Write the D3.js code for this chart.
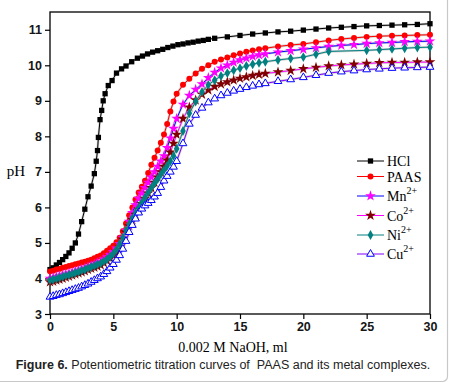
<!DOCTYPE html>
<html>
<head>
<meta charset="utf-8">
<script src="https://cdn.jsdelivr.net/npm/d3@7/dist/d3.min.js"></script>
<style>
  html, body { margin: 0; padding: 0; background: #fff; }
  svg { display: block; }
</style>
</head>
<body>
<div id="chart"></div>
<script>
// titration volumes (ml of 0.002 M NaOH) shared by PAAS and metal curves
const volume = [0,0.25,0.5,0.75,1,1.25,1.5,1.75,2,2.25,2.5,2.75,3,3.25,3.5,3.75,4,4.25,4.5,4.75,
  5,5.25,5.5,5.75,6,6.25,6.5,6.75,7,7.25,7.5,7.75,8,8.25,8.5,8.75,9,9.25,9.5,9.75,10,
  10.5,11,11.5,12,12.5,13,13.5,14,14.5,15,15.5,16,16.5,17,
  18,19,20,21,22,23,24,25,26,27,28,29,30];

const hclVolume = [0,0.25,0.5,0.75,1,1.25,1.5,1.75,2,2.25,2.5,2.75,3,3.25,3.5,
  3.65,3.75,3.82,3.95,4.08,4.2,4.35,4.6,4.9,5.25,5.65,6,6.45,6.9,7.3,7.7,8.1,8.5,8.9,9.3,9.7,
  10.1,10.5,10.9,11.3,11.7,12.1,12.5,
  13,14,15,16,17,18,19,20,21,22,23,24,25,26,27,28,29,30];
const hclPH = [4.25,4.30,4.38,4.45,4.53,4.62,4.72,4.85,5.00,5.25,5.60,5.95,6.30,6.60,6.95,
  7.30,7.60,7.97,8.47,8.73,9.00,9.20,9.43,9.57,9.78,9.90,9.98,10.10,10.20,10.26,10.32,10.37,10.41,10.45,10.50,10.54,
  10.58,10.60,10.63,10.65,10.68,10.70,10.73,
  10.76,10.80,10.84,10.88,10.91,10.94,10.96,10.99,11.02,11.05,11.07,11.09,11.11,11.12,11.13,11.14,11.15,11.17];

const paasPH = [4.20,4.22,4.25,4.27,4.30,4.32,4.35,4.37,4.40,4.42,4.45,4.47,4.50,4.53,4.57,4.61,4.65,4.71,4.78,4.85,
  4.92,5.02,5.15,5.33,5.55,5.78,6.00,6.22,6.42,6.58,6.75,6.97,7.20,7.40,7.60,7.82,8.05,8.35,8.70,8.98,9.20,
  9.45,9.62,9.77,9.90,10.00,10.10,10.16,10.22,10.28,10.33,10.38,10.42,10.45,10.48,
  10.53,10.57,10.60,10.65,10.70,10.74,10.77,10.80,10.82,10.83,10.84,10.85,10.86];

const mnPH = [4.00,4.02,4.05,4.07,4.10,4.12,4.15,4.17,4.20,4.23,4.26,4.29,4.33,4.36,4.40,4.44,4.48,4.54,4.60,4.67,
  4.75,4.85,4.98,5.15,5.35,5.60,5.85,6.07,6.25,6.40,6.55,6.70,6.85,7.00,7.15,7.30,7.45,7.68,7.95,8.22,8.50,
  8.90,9.15,9.32,9.47,9.65,9.80,9.92,10.00,10.08,10.15,10.20,10.25,10.29,10.32,
  10.37,10.41,10.45,10.49,10.53,10.56,10.58,10.61,10.63,10.64,10.66,10.67,10.68];

const coPH = [3.90,3.92,3.95,3.97,4.00,4.03,4.06,4.09,4.12,4.15,4.18,4.21,4.25,4.28,4.31,4.34,4.38,4.44,4.50,4.57,
  4.65,4.76,4.90,5.10,5.30,5.48,5.65,5.80,5.95,6.10,6.25,6.40,6.55,6.70,6.85,7.00,7.15,7.33,7.55,7.80,8.05,
  8.50,8.82,9.02,9.18,9.30,9.40,9.47,9.53,9.58,9.63,9.67,9.71,9.74,9.77,
  9.81,9.85,9.90,9.94,9.98,10.01,10.03,10.05,10.07,10.08,10.08,10.09,10.09];

const niPH = [3.95,3.97,4.00,4.02,4.05,4.08,4.10,4.13,4.16,4.19,4.22,4.25,4.29,4.32,4.36,4.39,4.43,4.48,4.54,4.61,
  4.70,4.82,4.97,5.15,5.35,5.53,5.70,5.85,6.00,6.14,6.28,6.42,6.55,6.68,6.80,6.93,7.05,7.17,7.30,7.45,7.65,
  8.15,8.65,8.98,9.25,9.45,9.58,9.70,9.78,9.86,9.92,9.98,10.03,10.07,10.10,
  10.15,10.19,10.23,10.31,10.39,null,null,10.42,10.44,10.46,10.48,10.50,10.51];

const cuPH = [3.48,3.50,3.53,3.55,3.58,3.61,3.64,3.67,3.70,3.73,3.77,3.81,3.85,3.90,3.95,4.00,4.05,4.12,4.20,4.30,
  4.40,4.52,4.65,4.83,5.05,5.30,5.50,5.68,5.85,5.96,6.05,6.12,6.20,6.30,6.40,6.57,6.75,6.88,7.00,7.14,7.30,
  7.80,8.35,8.60,8.80,8.95,9.06,9.15,9.22,9.28,9.33,9.38,9.42,9.46,9.49,
  9.55,9.60,9.66,9.72,9.78,9.82,9.85,9.88,9.90,9.92,9.93,9.94,9.95];

const xTicks = [0, 5, 10, 15, 20, 25, 30];
const yTicks = [3, 4, 5, 6, 7, 8, 9, 10, 11];

// series: label, superscript, line colour, marker colour, marker shape
const SERIES = [
  { name: 'HCl',  sup: '',   x: hclVolume, y: hclPH,  line: '#000000', mark: '#000000', shape: 'square' },
  { name: 'PAAS', sup: '',   x: volume,    y: paasPH, line: '#ff0000', mark: '#ff0000', shape: 'circle' },
  { name: 'Mn',   sup: '2+', x: volume,    y: mnPH,   line: '#0000ff', mark: '#ff00ff', shape: 'star' },
  { name: 'Co',   sup: '2+', x: volume,    y: coPH,   line: '#ff00ff', mark: '#800000', shape: 'star' },
  { name: 'Ni',   sup: '2+', x: volume,    y: niPH,   line: '#008080', mark: '#008080', shape: 'diamond' },
  { name: 'Cu',   sup: '2+', x: volume,    y: cuPH,   line: '#8000ff', mark: '#0000ff', shape: 'triangle' }
];

const W = 451, H = 383;
const plot = { left: 50, right: 430, top: 12, bottom: 314 };

const svg = d3.select('#chart').append('svg')
  .attr('width', W).attr('height', H);

// page border (only right/bottom edges show in the frame)
svg.append('rect')
  .attr('x', -10).attr('y', -10).attr('width', W - 3 + 10 - 0.5).attr('height', H - 1 + 10 - 0.5)
  .attr('rx', 5).attr('fill', 'none').attr('stroke', '#c8c8c8').attr('stroke-width', 1.2);

const x = d3.scaleLinear().domain([0, 30]).range([plot.left, plot.right]);
const y = d3.scaleLinear().domain([3, 11.5]).range([plot.bottom, plot.top]);

// ── Axes ────────────────────────────────────────────────────
const xAxis = svg.append('g')
  .attr('transform', `translate(0,${plot.bottom})`)
  .call(d3.axisBottom(x).tickValues(xTicks).tickSize(5).tickSizeOuter(0).tickPadding(3));
const yAxis = svg.append('g')
  .attr('transform', `translate(${plot.left},0)`)
  .call(d3.axisLeft(y).tickValues(yTicks).tickSize(5).tickSizeOuter(0).tickPadding(3));

[xAxis, yAxis].forEach(a => {
  a.select('.domain').remove();
  a.selectAll('line').attr('stroke', '#000').attr('stroke-width', 1.2);
  a.selectAll('text')
    .attr('fill', '#151515')
    .style('font-family', '"Liberation Sans", Arial, sans-serif')
    .style('font-weight', 'bold')
    .style('font-size', '12.5px');
});

// frame
svg.append('rect')
  .attr('x', plot.left).attr('y', plot.top)
  .attr('width', plot.right - plot.left).attr('height', plot.bottom - plot.top)
  .attr('fill', 'none').attr('stroke', '#000').attr('stroke-width', 1.3);

// axis titles
svg.append('text')
  .attr('x', 16).attr('y', 176)
  .attr('text-anchor', 'middle')
  .style('font-family', '"Liberation Serif", "Times New Roman", serif')
  .style('font-size', '15px')
  .text('pH');

svg.append('text')
  .attr('x', 233).attr('y', 352)
  .attr('text-anchor', 'middle')
  .style('font-family', '"Liberation Serif", "Times New Roman", serif')
  .style('font-size', '14px')
  .text('0.002 M NaOH, ml');

// caption
const cap = svg.append('text')
  .attr('x', 223).attr('y', 369)
  .attr('text-anchor', 'middle')
  .style('font-family', '"Liberation Sans", Arial, sans-serif')
  .style('font-size', '12.5px')
  .attr('fill', '#222');
cap.append('tspan').style('font-weight', 'bold').text('Figure 6.');
cap.append('tspan').attr('xml:space', 'preserve').text(' Potentiometric titration curves of \u00a0PAAS and its metal complexes.');

// ── Markers ─────────────────────────────────────────────────
const SYMBOLS = {
  square:   { type: d3.symbolSquare,   size: 28 },
  circle:   { type: d3.symbolCircle,   size: 28 },
  star:     { type: d3.symbolStar,     size: 36 },
  diamond:  { type: d3.symbolDiamond,  size: 28 },
  triangle: { type: d3.symbolTriangle, size: 26 }
};

function drawMarker(sel, s) {
  const sym = SYMBOLS[s.shape];
  const path = sel.append('path')
    .attr('d', d3.symbol().type(sym.type).size(sym.size)());
  if (s.shape === 'triangle') {
    path.attr('fill', '#fff').attr('stroke', s.mark).attr('stroke-width', 1);
  } else {
    path.attr('fill', s.mark);
  }
  return path;
}

const line = d3.line().x(d => x(d[0])).y(d => y(d[1]));

const curves = svg.append('g');
SERIES.forEach(s => {
  const pts = s.x.map((v, i) => [v, s.y[i]]).filter(d => d[1] != null);
  const g = curves.append('g');
  g.append('path').datum(pts)
    .attr('d', line).attr('fill', 'none')
    .attr('stroke', '#bbbbbb').attr('stroke-width', 2.4).attr('stroke-opacity', 0.7);
  g.append('path').datum(pts)
    .attr('d', line).attr('fill', 'none')
    .attr('stroke', s.line).attr('stroke-width', 1);
  g.selectAll('g.m').data(pts).join('g')
    .attr('class', 'm')
    .attr('transform', d => `translate(${x(d[0])},${y(d[1])})`)
    .each(function() { drawMarker(d3.select(this), s); });
});

// ── Legend ──────────────────────────────────────────────────
const legendRows = [161, 176.5, 196, 215.5, 235, 254];
const legend = svg.append('g');
SERIES.forEach((s, i) => {
  const ly = legendRows[i];
  legend.append('line')
    .attr('x1', 357).attr('x2', 384).attr('y1', ly).attr('y2', ly)
    .attr('stroke', s.line).attr('stroke-width', 1);
  drawMarker(legend.append('g').attr('transform', `translate(370.5,${ly})`), s);
  const t = legend.append('text')
    .attr('x', 387).attr('y', ly + 5)
    .style('font-family', '"Liberation Serif", "Times New Roman", serif')
    .style('font-size', '14px')
    .text(s.name);
  if (s.sup) {
    t.append('tspan').attr('dy', -7).style('font-size', '10px').text(s.sup);
  }
});
</script>
</body>
</html>
